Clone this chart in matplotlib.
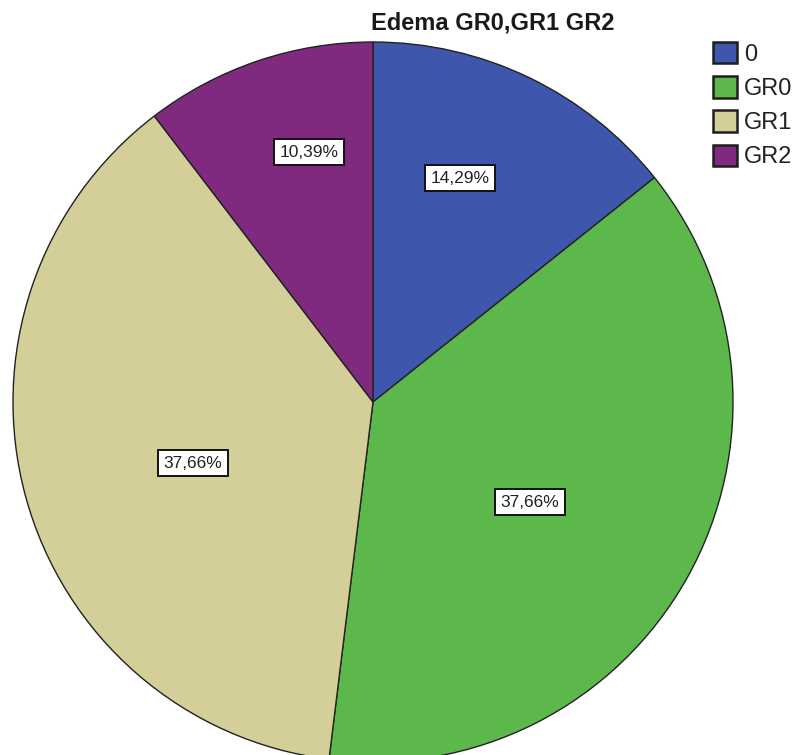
import matplotlib
matplotlib.use("Agg")
import matplotlib.pyplot as plt
import numpy as np

plt.rcParams['font.family'] = ['Liberation Sans', 'DejaVu Sans']

# data
categories = ["0", "GR0", "GR1", "GR2"]
percents = [14.29, 37.66, 37.66, 10.39]

colors = ["#3e56ab", "#5db84b", "#d4cf98", "#7f2a7f"]
# label placement (fraction of radius, horizontal / vertical)
lab_kx = [0.556, 0.50, 0.518, 0.553]
lab_ky = [0.69, 0.57, 0.647, 0.733]

fig = plt.figure(figsize=(7.96, 7.55), dpi=100)
W, H = 796, 755
# pie centre (373, 402) px, radius 360 px
ax = fig.add_axes([(373 - 360) / W, (H - 402 - 360) / H, 720 / W, 720 / H])

wedges, _ = ax.pie(percents, colors=colors, startangle=90, counterclock=False,
                   wedgeprops=dict(edgecolor="#222222", linewidth=1.0))
ax.set_xlim(-1, 1)
ax.set_ylim(-1, 1)
ax.set_aspect("equal")
ax.axis("off")

for w, p, kx, ky in zip(wedges, percents, lab_kx, lab_ky):
    mid = np.deg2rad((w.theta1 + w.theta2) / 2)
    txt = f"{p:.2f}%".replace(".", ",")
    ax.text(kx * np.cos(mid), ky * np.sin(mid), txt, ha="center", va="center",
            fontsize=12.5, color="#222222",
            bbox=dict(boxstyle="square,pad=0.32", facecolor="white",
                      edgecolor="#111111", linewidth=1.4))

fig.text(493 / W, 1 - 23 / H, "Edema GR0,GR1 GR2", ha="center", va="center",
         fontsize=17, fontweight="bold", color="#1a1a1a")

leg = fig.legend(wedges, categories, loc="upper left",
                 bbox_to_anchor=(713 / W, 1 - 42 / H), frameon=False,
                 fontsize=17, handlelength=1.02, handleheight=1.02,
                 handletextpad=0.3, labelspacing=0.44, borderpad=0,
                 borderaxespad=0)
for h in leg.legend_handles:
    h.set_linewidth(1.8)
    h.set_edgecolor("#1e1e1e")
for t in leg.get_texts():
    t.set_color("#222222")

fig.savefig("out.png", dpi=100)
